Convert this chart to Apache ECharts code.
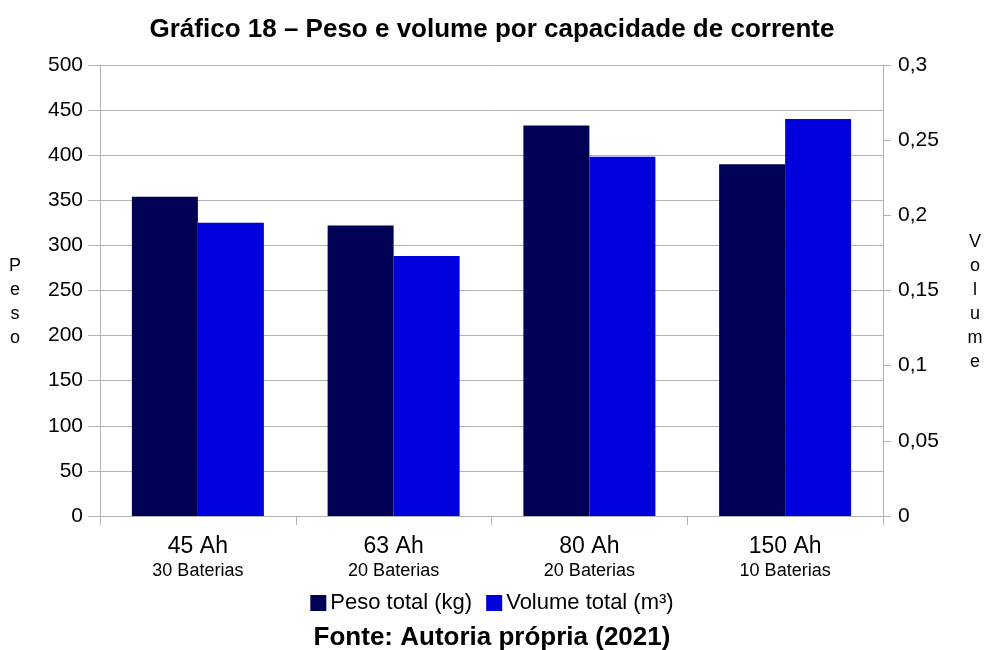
<!DOCTYPE html>
<html>
<head>
<meta charset="utf-8">
<script src="https://cdn.jsdelivr.net/npm/echarts@6/dist/echarts.min.js"></script>
<style>
  html, body { margin: 0; padding: 0; background: #fff; }
  #chart { width: 984px; height: 650px; }
</style>
</head>
<body>
<div id="chart"></div>
<script>
// Battery options: capacity and number of batteries
const capacities = ['45 Ah', '63 Ah', '80 Ah', '150 Ah'];
const batteryCounts = ['30 Baterias', '20 Baterias', '20 Baterias', '10 Baterias'];
// Total weight (kg) and total volume (m³) per option
const pesoTotal = [354, 322, 433, 390];
const volumeTotal = [0.195, 0.173, 0.239, 0.264];

const FONT = '"Liberation Sans", Arial, sans-serif';
const GRID_COLOR = '#b3b3b3';

const categories = capacities.map((c, i) => c + '\n' + batteryCounts[i]);

// Stack the letters of an axis name vertically (leading blank line nudges it down)
const stacked = word => '\n' + word.split('').join('\n');

const chart = echarts.init(document.getElementById('chart'));
chart.setOption({
  animation: false,
  textStyle: { fontFamily: FONT },
  title: [
    {
      text: 'Gráfico 18 – Peso e volume por capacidade de corrente',
      left: 'center', top: 12,
      textStyle: { fontFamily: FONT, fontSize: 26, fontWeight: 'bold', color: '#000' }
    },
    {
      text: 'Fonte: Autoria própria (2021)',
      left: 'center', top: 620,
      textStyle: { fontFamily: FONT, fontSize: 26, fontWeight: 'bold', color: '#000' }
    }
  ],
  legend: {
    top: 587,
    left: 'center',
    itemWidth: 16,
    itemHeight: 16,
    itemGap: 14,
    icon: 'rect',
    textStyle: { fontFamily: FONT, fontSize: 22, color: '#000', padding: [0, 0, 0, -1] },
    data: ['Peso total (kg)', 'Volume total (m³)']
  },
  grid: { left: 100, right: 101, top: 65, bottom: 134, outerBoundsMode: 'none' },
  xAxis: {
    type: 'category',
    data: categories,
    axisLine: { lineStyle: { color: GRID_COLOR } },
    axisTick: { show: true, length: 9, lineStyle: { color: GRID_COLOR } },
    axisLabel: {
      margin: 19,
      formatter: v => {
        const parts = v.split('\n');
        return '{a|' + parts[0] + '}\n{b|' + parts[1] + '}';
      },
      rich: {
        a: { fontFamily: FONT, fontSize: 23, color: '#000', lineHeight: 24 },
        b: { fontFamily: FONT, fontSize: 18, color: '#000', lineHeight: 24 }
      }
    }
  },
  yAxis: [
    {
      type: 'value',
      min: 0, max: 500, interval: 50,
      name: stacked('Peso'),
      nameLocation: 'middle',
      nameRotate: 0,
      nameGap: 85,
      nameTextStyle: { fontFamily: FONT, fontSize: 18, color: '#000', lineHeight: 24, align: 'center' },
      axisLine: { show: true, lineStyle: { color: GRID_COLOR } },
      axisTick: { show: true, length: 12, lineStyle: { color: GRID_COLOR } },
      axisLabel: { fontFamily: FONT, fontSize: 21, color: '#000', margin: 17 },
      splitLine: { show: true, lineStyle: { color: GRID_COLOR } }
    },
    {
      type: 'value',
      min: 0, max: 0.3, interval: 0.05,
      name: stacked('Volume'),
      nameLocation: 'middle',
      nameRotate: 0,
      nameGap: 92,
      nameTextStyle: { fontFamily: FONT, fontSize: 18, color: '#000', lineHeight: 24, align: 'center' },
      axisLine: { show: true, lineStyle: { color: GRID_COLOR } },
      axisTick: { show: true, length: 8, lineStyle: { color: GRID_COLOR } },
      axisLabel: {
        fontFamily: FONT, fontSize: 21, color: '#000', margin: 15,
        formatter: v => String(Math.round(v * 100) / 100).replace('.', ',')
      },
      splitLine: { show: false }
    }
  ],
  series: [
    {
      name: 'Peso total (kg)',
      type: 'bar',
      yAxisIndex: 0,
      barWidth: 66,
      barGap: '0%',
      itemStyle: { color: '#000055' },
      data: pesoTotal
    },
    {
      name: 'Volume total (m³)',
      type: 'bar',
      yAxisIndex: 1,
      barWidth: 66,
      barGap: '0%',
      itemStyle: { color: '#0000dd' },
      data: volumeTotal
    }
  ]
});
</script>
</body>
</html>
